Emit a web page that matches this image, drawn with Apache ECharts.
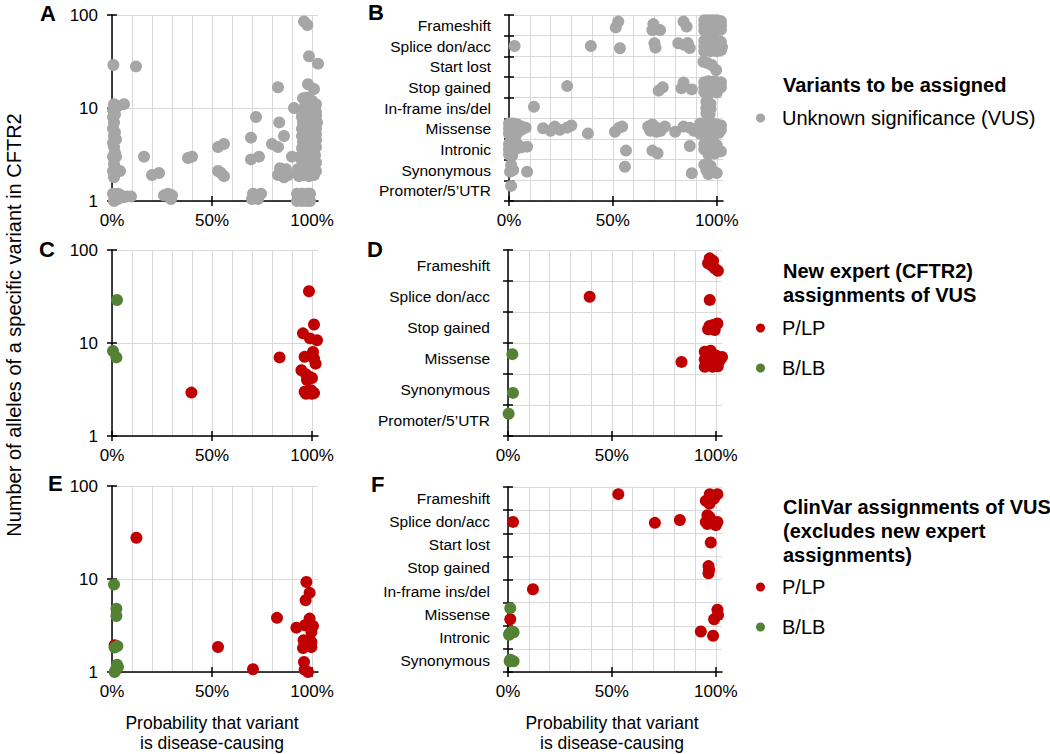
<!DOCTYPE html>
<html><head><meta charset="utf-8">
<script src="https://cdn.jsdelivr.net/npm/echarts@6/dist/echarts.min.js"></script>
<style>html,body{margin:0;padding:0;background:#fff}#c{width:1050px;height:754px}</style>
</head><body><div id="c"></div>
<script>
// ---------- DATA ----------
const X_TICKS = [0, 0.5, 1];            // labelled probability ticks
const X_GRID = [0, 0.1, 0.2, 0.3, 0.4, 0.5, 0.6, 0.7, 0.8, 0.9, 1.0];   // vertical gridlines
const X_TITLE = 'Probability that variant\nis disease-causing';
const Y_TITLE = 'Number of alleles of a specific variant in CFTR2';

const catsB = ['Frameshift','Splice don/acc','Start lost','Stop gained','In-frame ins/del','Missense','Intronic','Synonymous','Promoter/5\u2019UTR'];
const catsD = ['Frameshift','Splice don/acc','Stop gained','Missense','Synonymous','Promoter/5\u2019UTR'];
const catsF = ['Frameshift','Splice don/acc','Start lost','Stop gained','In-frame ins/del','Missense','Intronic','Synonymous'];

// Panel A: [probability, alleles] - VUS
const A_vus = [
 [0.007,29],[0.12,28],
 [0.01,11],[0.06,11],[0.03,10.5],[0.005,9.5],[0.015,8.5],[0.005,8],[0.01,7],[0.005,6],[0.015,5.5],[0.01,5],[0.02,4.6],[0.005,4.2],[0.01,3.8],[0.015,3.3],[0.005,3],[0.02,3],[0.01,2.5],[0.005,2.1],[0.04,2.1],[0.015,2],[0.01,1.8],[0.005,1.2],[0.015,1.1],[0.03,1.05],[0.045,1.15],[0.06,1.1],[0.075,1.12],[0.095,1.12],[0.01,1.0],[0.03,1.2],
 [0.16,3],[0.2,1.9],[0.235,2.0],[0.26,1.15],[0.28,1.2],[0.3,1.15],[0.295,1.05],[0.38,2.9],[0.4,3.0],[0.53,2.1],[0.56,1.85],[0.545,2.0],[0.53,3.8],[0.56,4.1],[0.695,4.8],[0.72,8],[0.695,2.8],[0.735,3.0],[0.7,1.05],[0.705,1.2],[0.725,1.1],[0.745,1.2],[0.73,1.05],
 [0.83,16.7],[0.836,7],[0.86,5],[0.8,4.1],[0.83,3.8],[0.83,1.9],[0.85,2.1],[0.87,2.2],[0.88,1.9],[0.86,1.8],[0.84,2.25],[0.91,10],[0.9,3],
 [0.96,85],[0.977,78],[0.985,36],[1.03,30],[0.98,18],[1.01,16],[0.955,12.7],[0.975,13],[1.0,12],[1.02,11],
 [0.96,10],[0.99,10.5],[1.015,9.8],
 [0.95,9],[0.975,9],[1.0,9],[1.02,9],
 [0.95,8],[0.975,8],[1.0,8],[1.02,8.2],
 [0.955,7],[0.98,7],[1.005,7],[1.025,7],
 [0.95,6],[0.975,6],[1.0,6],[1.02,6],
 [0.95,5],[0.975,5],[1.0,5],[1.02,5.2],
 [0.955,4.3],[0.98,4.5],[1.005,4.3],[1.02,4.5],
 [0.95,3.7],[0.975,3.7],[1.0,3.7],[1.02,3.8],
 [0.94,3.0],[0.965,3.2],[0.99,3.2],[1.015,3.1],
 [0.95,2.7],[0.975,2.6],[1.0,2.7],[1.02,2.6],
 [0.93,2.2],[0.955,2.2],[0.98,2.2],[1.005,2.3],[1.02,2.1],
 [0.935,1.85],[0.96,1.9],[0.985,1.85],[1.01,1.9],
 [0.925,1.0],[0.95,1.0],[0.975,1.0],[0.99,1.0],[0.925,1.2],[0.95,1.2],[0.975,1.2],[0.99,1.2],[0.94,1.1],[0.97,1.1]
];

// Panel B: [category, probability, position within category band (0 bottom .. 1 top)] - VUS
const B_vus = [
 ['Frameshift',0.526,0.68],['Frameshift',0.514,0.4],['Frameshift',0.695,0.56],['Frameshift',0.69,0.27],['Frameshift',0.727,0.27],['Frameshift',0.84,0.68],['Frameshift',0.855,0.44],
 ['Frameshift',0.94,0.75],['Frameshift',0.96,0.75],['Frameshift',0.98,0.75],['Frameshift',1.0,0.75],['Frameshift',1.02,0.7],['Frameshift',0.94,0.5],['Frameshift',0.96,0.5],['Frameshift',0.98,0.5],['Frameshift',1.0,0.5],['Frameshift',1.02,0.5],['Frameshift',0.94,0.25],['Frameshift',0.96,0.25],['Frameshift',0.98,0.25],['Frameshift',1.0,0.25],['Frameshift',1.02,0.3],
 ['Splice don/acc',0.027,0.5],['Splice don/acc',0.394,0.5],['Splice don/acc',0.534,0.39],['Splice don/acc',0.7,0.63],['Splice don/acc',0.705,0.42],['Splice don/acc',0.815,0.63],['Splice don/acc',0.845,0.55],['Splice don/acc',0.87,0.4],['Splice don/acc',0.86,0.65],
 ['Splice don/acc',0.94,0.75],['Splice don/acc',0.96,0.75],['Splice don/acc',0.99,0.75],['Splice don/acc',1.02,0.7],['Splice don/acc',0.94,0.5],['Splice don/acc',0.97,0.5],['Splice don/acc',1.0,0.5],['Splice don/acc',1.025,0.45],['Splice don/acc',0.94,0.25],['Splice don/acc',0.97,0.25],['Splice don/acc',1.0,0.25],['Splice don/acc',1.02,0.3],
 ['Start lost',0.936,0.74],['Start lost',0.955,0.68],['Start lost',0.976,0.58],['Start lost',0.997,0.34],
 ['Stop gained',0.28,0.56],['Stop gained',0.72,0.34],['Stop gained',0.74,0.5],['Stop gained',0.84,0.73],['Stop gained',0.83,0.45],['Stop gained',0.88,0.4],
 ['Stop gained',0.94,0.75],['Stop gained',0.96,0.8],['Stop gained',0.99,0.8],['Stop gained',1.02,0.75],['Stop gained',0.94,0.5],['Stop gained',0.97,0.5],['Stop gained',1.0,0.5],['Stop gained',1.02,0.5],['Stop gained',0.94,0.28],['Stop gained',0.97,0.25],['Stop gained',1.0,0.25],
 ['In-frame ins/del',0.12,0.56],['In-frame ins/del',0.95,0.8],['In-frame ins/del',0.97,0.7],['In-frame ins/del',0.95,0.5],['In-frame ins/del',0.97,0.45],['In-frame ins/del',0.95,0.25],['In-frame ins/del',0.965,0.2],
 ['Missense',0.0,0.75],['Missense',0.02,0.75],['Missense',0.04,0.7],['Missense',0.06,0.6],['Missense',0.08,0.55],['Missense',0.0,0.5],['Missense',0.02,0.5],['Missense',0.04,0.5],['Missense',0.06,0.45],['Missense',0.0,0.25],['Missense',0.02,0.25],['Missense',0.04,0.3],['Missense',0.01,0.05],['Missense',0.03,0.1],
 ['Missense',0.164,0.52],['Missense',0.2,0.4],['Missense',0.22,0.6],['Missense',0.245,0.45],['Missense',0.28,0.55],['Missense',0.3,0.65],['Missense',0.38,0.27],['Missense',0.51,0.35],['Missense',0.53,0.55],['Missense',0.545,0.6],
 ['Missense',0.67,0.6],['Missense',0.69,0.7],['Missense',0.71,0.55],['Missense',0.73,0.4],['Missense',0.75,0.6],['Missense',0.68,0.4],['Missense',0.71,0.35],['Missense',0.8,0.35],['Missense',0.84,0.6],['Missense',0.87,0.55],['Missense',0.89,0.4],
 ['Missense',0.92,0.75],['Missense',0.94,0.7],['Missense',0.96,0.75],['Missense',0.98,0.75],['Missense',1.0,0.7],['Missense',1.02,0.65],['Missense',0.9,0.5],['Missense',0.93,0.5],['Missense',0.96,0.5],['Missense',0.99,0.5],['Missense',1.02,0.45],['Missense',0.92,0.25],['Missense',0.95,0.25],['Missense',0.98,0.25],['Missense',1.01,0.3],['Missense',0.95,0.1],['Missense',0.98,0.05],
 ['Intronic',0.0,0.75],['Intronic',0.02,0.7],['Intronic',0.04,0.75],['Intronic',0.0,0.5],['Intronic',0.02,0.45],['Intronic',0.04,0.55],['Intronic',0.0,0.25],['Intronic',0.015,0.2],['Intronic',0.087,0.63],['Intronic',0.06,0.6],
 ['Intronic',0.563,0.44],['Intronic',0.69,0.44],['Intronic',0.715,0.31],['Intronic',0.87,0.66],['Intronic',0.94,0.75],['Intronic',0.97,0.8],['Intronic',1.0,0.7],['Intronic',0.94,0.5],['Intronic',0.97,0.5],['Intronic',1.0,0.5],['Intronic',1.02,0.4],['Intronic',0.96,0.25],['Intronic',0.99,0.3],
 ['Synonymous',0.01,0.74],['Synonymous',0.005,0.42],['Synonymous',0.02,0.5],['Synonymous',0.087,0.42],['Synonymous',0.558,0.66],['Synonymous',0.88,0.34],['Synonymous',0.94,0.75],['Synonymous',0.97,0.7],['Synonymous',0.95,0.5],['Synonymous',0.98,0.45],['Synonymous',1.0,0.35],['Synonymous',0.96,0.3],
 ['Promoter/5\u2019UTR',0.01,0.73]
];

// Panel C: [probability, alleles]
const C_plp = [[0.397,2.93],[0.838,7.0],[0.985,36],[1.01,15.8],[0.955,12.7],[0.99,11.2],[1.025,10.7],[0.963,7.1],[1.005,8],[1.01,6.8],[1.018,6],[0.947,5.1],[0.97,4.6],[0.99,4.3],[0.975,4],[1.0,4.2],[0.963,3.0],[0.995,3.1],[1.01,2.9],[0.97,2.85],[1.0,2.85]];
const C_blb = [[0.025,29],[0.005,8.2],[0.022,7.0]];

// Panel D: [category, probability, position within band]
const D_plp = [
 ['Frameshift',0.971,0.73],['Frameshift',0.963,0.57],['Frameshift',0.987,0.65],['Frameshift',0.995,0.41],['Frameshift',1.01,0.33],['Frameshift',0.98,0.5],
 ['Splice don/acc',0.393,0.49],['Splice don/acc',0.971,0.39],
 ['Stop gained',0.963,0.44],['Stop gained',0.987,0.58],['Stop gained',1.008,0.63],['Stop gained',0.97,0.55],['Stop gained',0.995,0.42],
 ['Missense',0.835,0.39],['Missense',0.947,0.72],['Missense',0.975,0.75],['Missense',1.0,0.6],['Missense',1.03,0.55],['Missense',0.947,0.47],['Missense',0.97,0.55],['Missense',0.995,0.4],['Missense',0.947,0.23],['Missense',0.985,0.23],['Missense',1.01,0.25],['Missense',1.02,0.45]
];
const D_blb = [['Missense',0.021,0.64],['Synonymous',0.024,0.39],['Promoter/5\u2019UTR',0.003,0.72]];

// Panel E: [probability, alleles]
const E_plp = [[0.122,27.8],[0.53,1.86],[0.705,1.07],[0.825,3.82],[0.972,9.3],[0.988,7.1],[0.968,5.9],[0.988,3.75],[0.922,3.0],[0.965,3.18],[1.005,3.13],[0.997,2.7],[0.958,2.2],[0.997,2.1],[0.955,1.81],[0.997,1.86],[0.96,1.28],[0.963,1.06],[0.98,1.0],[0.013,1.94],[0.02,1.06]];
const E_blb = [[0.01,8.7],[0.022,4.8],[0.022,4.0],[0.013,1.83],[0.027,1.9],[0.025,1.2],[0.03,1.13],[0.013,1.0]];

// Panel F: [category, probability, position within band]
const F_plp = [
 ['Frameshift',0.531,0.69],['Frameshift',0.971,0.69],['Frameshift',1.008,0.69],['Frameshift',0.992,0.5],['Frameshift',0.952,0.4],['Frameshift',0.97,0.28],['Frameshift',0.99,0.6],
 ['Splice don/acc',0.024,0.49],['Splice don/acc',0.707,0.45],['Splice don/acc',0.827,0.57],['Splice don/acc',0.96,0.78],['Splice don/acc',0.952,0.49],['Splice don/acc',0.975,0.6],['Splice don/acc',0.96,0.4],['Splice don/acc',1.008,0.49],['Splice don/acc',1.0,0.35],['Splice don/acc',0.97,0.7],
 ['Start lost',0.976,0.6],
 ['Stop gained',0.965,0.58],['Stop gained',0.965,0.27],['Stop gained',0.968,0.42],
 ['In-frame ins/del',0.12,0.58],
 ['Missense',0.011,0.28],['Missense',1.008,0.69],['Missense',1.011,0.47],['Missense',0.992,0.28],
 ['Intronic',0.928,0.75],['Intronic',0.987,0.57]
];
const F_blb = [['Missense',0.011,0.76],['Intronic',0.008,0.68],['Intronic',0.02,0.75],['Intronic',0.005,0.61],['Intronic',0.027,0.72],['Synonymous',0.011,0.53],['Synonymous',0.027,0.46],['Synonymous',0.008,0.46]];

// ---------- STYLE ----------
const FONT = '"Liberation Sans", Arial, Helvetica, sans-serif';
const GRID_COLOR = '#d9d9d9';
const GRAY = '#a6a6a6', RED = '#c00000', GREEN = '#548235';
const X_MAX = 1.03;
const SYM = 12;

const grids = [
  {left:112, top:15,  width:206, height:186},  // A
  {left:509, top:15,  width:214, height:186},  // B
  {left:112, top:250, width:206, height:186},  // C
  {left:508, top:250, width:214, height:186},  // D
  {left:112, top:486, width:206, height:186},  // E
  {left:508, top:487, width:214, height:185}   // F
];

const xAxis = [], yAxis = [], series = [];
const lineStyle = {color:'#000', width:1.5};

function addX(gi, withName) {
  const main = {
    gridIndex: gi, type:'value', min:0, max:X_MAX, position:'bottom',
    axisLine:{show:true, onZero:false, lineStyle},
    axisTick:{show:true, customValues:X_GRID, length:0, lineStyle:{color:'rgba(0,0,0,0)', width:0}},
    axisLabel:{show:true, customValues:X_TICKS, formatter:v => Math.round(v*100)+'%',
      fontSize:17, color:'#000', margin:11, fontFamily:FONT},
    splitLine:{show:true, lineStyle:{color:GRID_COLOR, width:1}}
  };
  if (withName) {
    main.name = X_TITLE; main.nameLocation = 'middle'; main.nameGap = 41;
    main.nameTextStyle = {fontSize:17.5, lineHeight:20, color:'#000', fontFamily:FONT, padding:[0,6,0,0]};
  }
  xAxis.push(main);
  const idx = xAxis.length - 1;
  [false, true].forEach(inside => xAxis.push({gridIndex:gi, type:'value', min:0, max:X_MAX, position:'bottom',
    axisLine:{show:false}, axisLabel:{show:false}, splitLine:{show:false},
    axisTick:{show:true, inside, customValues:X_TICKS, length:5, lineStyle}}));
  return idx;
}
function addLogY(gi) {
  yAxis.push({gridIndex:gi, type:'log', logBase:10, min:1, max:100, position:'left',
    axisLine:{show:true, onZero:false, lineStyle}, axisTick:{show:true, length:5, lineStyle},
    axisLabel:{fontSize:17, color:'#000', margin:14, fontFamily:FONT},
    splitLine:{show:true, lineStyle:{color:GRID_COLOR, width:1}}});
  const idx = yAxis.length - 1;
  yAxis.push({gridIndex:gi, type:'log', logBase:10, min:1, max:100, position:'left',
    axisLine:{show:false}, axisLabel:{show:false}, splitLine:{show:false},
    axisTick:{show:true, inside:true, length:5, lineStyle}});
  return idx;
}
function addCatY(gi, cats) {
  yAxis.push({gridIndex:gi, type:'value', min:0, max:cats.length, interval:1, position:'left',
    axisLine:{show:true, onZero:false, lineStyle}, axisTick:{show:true, length:5, lineStyle},
    axisLabel:{show:false}, splitLine:{show:true, lineStyle:{color:GRID_COLOR, width:1}}});
  const idx = yAxis.length - 1;
  yAxis.push({gridIndex:gi, type:'value', min:0, max:cats.length, interval:1, position:'left',
    axisLine:{show:false}, axisLabel:{show:false}, splitLine:{show:false},
    axisTick:{show:true, inside:true, length:5, lineStyle}});
  yAxis.push({gridIndex:gi, type:'category', data:cats.slice().reverse(), position:'left', boundaryGap:true,
    axisLine:{show:false}, axisTick:{show:false}, splitLine:{show:false},
    axisLabel:{fontSize:15.5, color:'#000', margin:18, fontFamily:FONT, interval:0}});
  return idx;
}
function catPoints(rows, cats) {
  return rows.map(r => [r[1], (cats.length - 1 - cats.indexOf(r[0])) + r[2]]);
}
function addSeries(name, xi, yi, data, color) {
  series.push({type:'scatter', name, xAxisIndex:xi, yAxisIndex:yi, data, symbolSize:SYM,
    itemStyle:{color, opacity:1}, clip:false, silent:true, emphasis:{disabled:true}, animation:false});
}

// A
let xi = addX(0, false), yi = addLogY(0);
addSeries('Unknown significance (VUS)', xi, yi, A_vus, GRAY);
// B
xi = addX(1, false); yi = addCatY(1, catsB);
addSeries('Unknown significance (VUS)', xi, yi, catPoints(B_vus, catsB), GRAY);
// C
xi = addX(2, false); yi = addLogY(2);
addSeries('P/LP', xi, yi, C_plp, RED);
addSeries('B/LB', xi, yi, C_blb, GREEN);
// D
xi = addX(3, false); yi = addCatY(3, catsD);
addSeries('P/LP', xi, yi, catPoints(D_plp, catsD), RED);
addSeries('B/LB', xi, yi, catPoints(D_blb, catsD), GREEN);
// E
xi = addX(4, true); yi = addLogY(4);
addSeries('P/LP', xi, yi, E_plp, RED);
addSeries('B/LB', xi, yi, E_blb, GREEN);
// F
xi = addX(5, true); yi = addCatY(5, catsF);
addSeries('P/LP', xi, yi, catPoints(F_plp, catsF), RED);
addSeries('B/LB', xi, yi, catPoints(F_blb, catsF), GREEN);

const legendBase = {orient:'vertical', left:756, icon:'circle', itemWidth:9, itemHeight:9, itemGap:20,
  selectedMode:false, padding:0, textStyle:{fontSize:20, color:'#000', fontFamily:FONT, padding:[0,0,0,12]}};

function txt(x, y, text, font, extra) {
  return Object.assign({type:'text', x, y, silent:true,
    style:{text, font, fill:'#000', verticalAlign:'middle', align:'left'}}, extra || {});
}
const bold20 = 'bold 20px ' + FONT, letterFont = 'bold 22px ' + FONT;

const option = {
  animation:false,
  backgroundColor:'#fff',
  grid: grids,
  xAxis, yAxis, series,
  legend: [
    Object.assign({}, legendBase, {top:108, data:['Unknown significance (VUS)']}),
    Object.assign({}, legendBase, {top:318, data:['P/LP','B/LB']}),
    Object.assign({}, legendBase, {top:577, data:['P/LP','B/LB']})
  ],
  graphic: [
    txt(40, 13, 'A', letterFont), txt(368, 12, 'B', letterFont),
    txt(39, 249, 'C', letterFont), txt(367, 249, 'D', letterFont),
    txt(48, 483, 'E', letterFont), txt(371, 484, 'F', letterFont),
    {type:'text', x:14, y:325, rotation:Math.PI/2, silent:true,
     style:{text:Y_TITLE, font:'20px ' + FONT, fill:'#000', align:'center', verticalAlign:'middle'}},
    txt(783, 85, 'Variants to be assigned', bold20),
    txt(783, 271, 'New expert (CFTR2)', bold20),
    txt(783, 295, 'assignments of VUS', bold20),
    txt(783, 507, 'ClinVar assignments of VUS', bold20),
    txt(783, 531, '(excludes new expert', bold20),
    txt(783, 555, 'assignments)', bold20)
  ]
};

const chart = echarts.init(document.getElementById('c'), null, {renderer:'svg'});
chart.setOption(option);
</script>
</body></html>
